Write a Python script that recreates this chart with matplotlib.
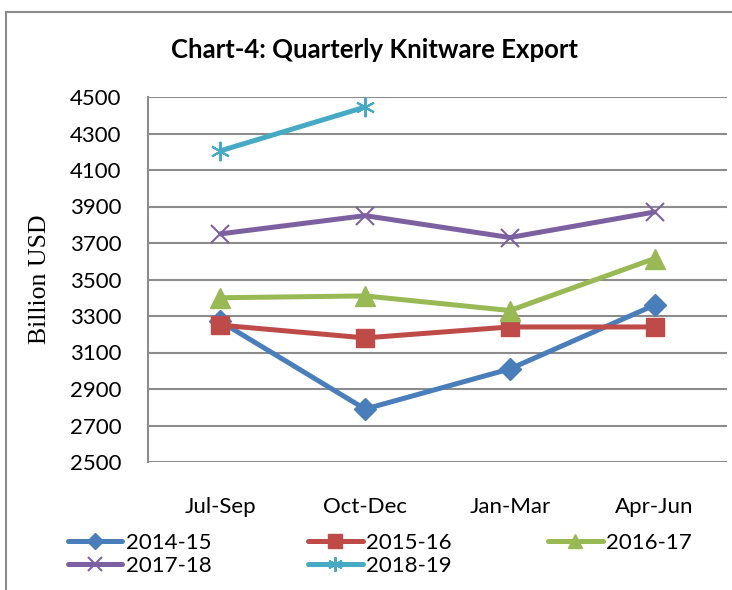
import matplotlib
matplotlib.use("Agg")
import matplotlib.pyplot as plt
from matplotlib.patches import Rectangle

categories = ["Jul-Sep", "Oct-Dec", "Jan-Mar", "Apr-Jun"]
s2014_15 = [3270, 2790, 3010, 3360]
s2015_16 = [3250, 3180, 3240, 3240]
s2016_17 = [3400, 3410, 3330, 3615]
s2017_18 = [3750, 3850, 3730, 3870]
s2018_19 = [4205, 4445]
series_names = ["2014-15", "2015-16", "2016-17", "2017-18", "2018-19"]
yticks = [2500, 2700, 2900, 3100, 3300, 3500, 3700, 3900, 4100, 4300, 4500]

W, H = 732, 590
fig = plt.figure(figsize=(W / 100, H / 100), dpi=100)
plt.rcParams['font.family'] = ['Lato', 'DejaVu Sans']

# outer chart frame (left and top borders visible)
fig.patches.append(Rectangle((6 / W, -0.1), 2.0, (H - 12) / H + 0.1,
                             transform=fig.transFigure, fill=False,
                             edgecolor="#8a8a8a", lw=1.5))

ax = fig.add_axes([148 / W, 1 - 462 / H, (727 - 148) / W, (462 - 97) / H])
x = list(range(len(categories)))

styles = [
    dict(color="#4a7ebb", marker="D", ms=11, mec="#4a7ebb"),
    dict(color="#be4b48", marker="s", ms=13, mec="#be4b48"),
    dict(color="#98b954", marker="^", ms=14, mec="#98b954"),
    dict(color="#7d60a0", marker="x", ms=13, mew=1.5),
    dict(color="#46aac5", marker=(6, 2, 0), ms=14, mew=1.5),
]
data = [s2014_15, s2015_16, s2016_17, s2017_18, s2018_19]
handles = []
for name, vals, st in zip(series_names, data, styles):
    h, = ax.plot(x[:len(vals)], vals, lw=3.6, label=name, solid_capstyle="round", **st)
    handles.append(h)

ax.set_xlim(-0.5, len(categories) - 0.5)
ax.set_ylim(2500, 4500)
ax.set_yticks(yticks)
ax.set_xticks(x)
ax.set_xticklabels(categories)
ax.yaxis.grid(True, color="#8c8c8c", lw=1.5)
ax.set_axisbelow(True)
for s in ["top", "right", "bottom"]:
    ax.spines[s].set_visible(False)
ax.spines["left"].set_color("#8c8c8c")
ax.spines["left"].set_linewidth(1.5)
ax.tick_params(axis="y", length=0, pad=19, labelsize=16)
ax.tick_params(axis="x", length=0, pad=25, labelsize=16)

ax.set_ylabel("Billion USD", family="Liberation Serif", fontsize=18.5)
ax.yaxis.set_label_coords(-0.168, 0.5)

fig.text(375 / W, 1 - 50 / H, "Chart-4: Quarterly Knitware Export",
         ha="center", va="center", fontsize=18.5, fontweight="bold")

order = [0, 3, 1, 4, 2]
fig.legend(handles=[handles[i] for i in order],
           labels=[series_names[i] for i in order], ncol=3, frameon=False,
           loc="upper left", bbox_to_anchor=(59 / W, 1 - 524 / H),
           fontsize=16, handlelength=2.45, handletextpad=0.15,
           columnspacing=4.35, labelspacing=0.14, borderaxespad=0,
           markerscale=0.75)

fig.savefig("out.png", dpi=100)
